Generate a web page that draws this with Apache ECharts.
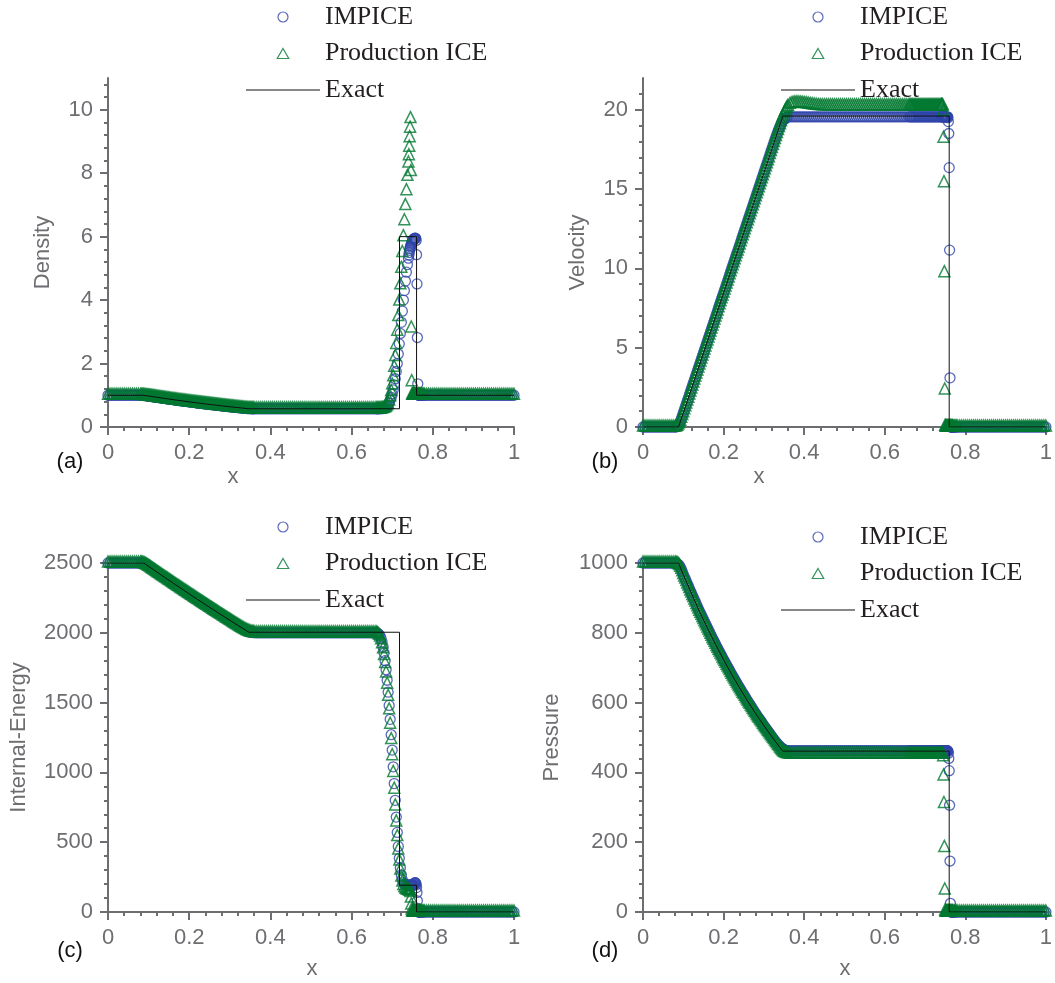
<!DOCTYPE html>
<html><head><meta charset="utf-8">
<script src="https://cdn.jsdelivr.net/npm/echarts@6/dist/echarts.min.js"></script>
<style>html,body{margin:0;padding:0;background:#fff}#c{width:1055px;height:983px}</style>
</head><body><div id="c"></div>
<script>
// cell centres of the numerical solutions
const xGrid = [
0,0.005,0.01,0.015,0.02,0.025,0.03,0.035,0.04,0.045,
0.05,0.055,0.06,0.065,0.07,0.075,0.08,
0.0825,0.085,0.0875,0.09,0.0925,0.095,0.0975,0.1,0.1025,0.105,
0.1075,0.11,0.1125,0.115,0.1175,0.12,0.1225,0.125,0.1275,0.13,
0.1325,0.135,0.1375,0.14,0.1425,0.145,0.1475,0.15,0.1525,0.155,
0.1575,0.16,0.1625,0.165,0.1675,0.17,0.1725,0.175,0.1775,0.18,
0.1825,0.185,0.1875,0.19,0.1925,0.195,0.1975,0.2,0.2025,0.205,
0.2075,0.21,0.2125,0.215,0.2175,0.22,0.2225,0.225,0.2275,0.23,
0.2325,0.235,0.2375,0.24,0.2425,0.245,0.2475,0.25,0.2525,0.255,
0.2575,0.26,0.2625,0.265,0.2675,0.27,0.2725,0.275,0.2775,0.28,
0.2825,0.285,0.2875,0.29,0.2925,0.295,0.2975,0.3,0.3025,0.305,
0.3075,0.31,0.3125,0.315,0.3175,0.32,0.3225,0.325,0.3275,0.33,
0.3325,0.335,0.3375,0.34,0.3425,0.345,0.3475,0.35,0.3525,0.355,
0.3575,0.36,
0.365,0.37,0.375,0.38,0.385,0.39,0.395,0.4,0.405,0.41,
0.415,0.42,0.425,0.43,0.435,0.44,0.445,0.45,0.455,0.46,
0.465,0.47,0.475,0.48,0.485,0.49,0.495,0.5,0.505,0.51,
0.515,0.52,0.525,0.53,0.535,0.54,0.545,0.55,0.555,0.56,
0.565,0.57,0.575,0.58,0.585,0.59,0.595,0.6,0.605,0.61,
0.615,0.62,0.625,0.63,0.635,0.64,0.645,0.65,0.655,0.66,
0.6625,0.665,0.6675,0.67,0.6725,0.675,0.6775,0.68,0.6825,0.685,
0.6875,0.69,0.6925,0.695,0.6975,0.7,0.7025,0.705,0.7075,0.71,
0.7125,0.715,0.7175,0.72,0.7225,0.725,0.7275,0.73,0.7325,0.735,
0.7375,0.74,
0.741,0.742,0.743,0.744,0.745,0.746,0.747,0.748,0.749,0.75,
0.751,0.752,0.753,0.754,0.755,0.756,0.757,0.758,0.759,0.76,
0.761,0.762,0.763,0.764,0.765,0.766,0.767,0.768,0.769,0.77,
0.7725,0.775,0.7775,0.78,
0.785,0.79,0.795,0.8,0.805,0.81,0.815,0.82,0.825,0.83,
0.835,0.84,0.845,0.85,0.855,0.86,0.865,0.87,0.875,0.88,
0.885,0.89,0.895,0.9,0.905,0.91,0.915,0.92,0.925,0.93,
0.935,0.94,0.945,0.95,0.955,0.96,0.965,0.97,0.975,0.98,
0.985,0.99,0.995,1];

const densityImpice = [
1,1,1,1,1,1,1,1,1,1,
1,1,1,1,1,1,0.999,
0.998,0.996,0.993,0.99,0.987,0.983,0.979,0.975,0.971,0.966,
0.962,0.957,0.952,0.947,0.943,0.938,0.933,0.928,0.923,0.918,
0.914,0.909,0.905,0.9,0.895,0.89,0.886,0.881,0.877,0.872,
0.868,0.863,0.859,0.854,0.85,0.845,0.841,0.836,0.832,0.828,
0.824,0.819,0.815,0.81,0.806,0.802,0.798,0.793,0.789,0.785,
0.781,0.777,0.773,0.769,0.765,0.76,0.756,0.752,0.748,0.744,
0.74,0.736,0.732,0.728,0.725,0.721,0.717,0.713,0.709,0.705,
0.702,0.698,0.694,0.69,0.687,0.683,0.679,0.675,0.672,0.668,
0.664,0.66,0.657,0.653,0.65,0.646,0.643,0.639,0.636,0.632,
0.629,0.625,0.622,0.618,0.615,0.611,0.608,0.604,0.601,0.598,
0.595,0.592,0.589,0.586,0.583,0.581,0.579,0.578,0.577,0.576,
0.5755,0.575,
0.575,0.575,0.575,0.575,0.575,0.575,0.575,0.575,0.575,0.575,
0.575,0.575,0.575,0.575,0.575,0.575,0.575,0.575,0.575,0.575,
0.575,0.575,0.575,0.575,0.575,0.575,0.575,0.575,0.575,0.575,
0.575,0.575,0.575,0.575,0.575,0.575,0.575,0.575,0.575,0.575,
0.575,0.575,0.575,0.575,0.575,0.575,0.575,0.575,0.575,0.575,
0.575,0.575,0.575,0.575,0.575,0.575,0.575,0.575,0.575,0.575,
0.575,0.575,0.576,0.577,0.578,0.58,0.583,0.587,0.595,0.61,
0.64,0.69,0.76,0.84,0.93,1.04,1.17,1.33,1.52,1.75,
2,2.3,2.62,2.95,3.3,3.65,4,4.3,4.6,4.88,
5.12,5.32,
5.42,5.5,5.57,5.63,5.68,5.72,5.76,5.8,5.83,5.86,
5.88,5.9,5.92,5.93,5.94,5.95,5.95,5.94,5.88,5.43,
4.51,2.82,1.36,1.02,1,1,1,1,1,1,
1,1,1,1,
1,1,1,1,1,1,1,1,1,1,
1,1,1,1,1,1,1,1,1,1,
1,1,1,1,1,1,1,1,1,1,
1,1,1,1,1,1,1,1,1,1,
1,1,1,1];

const densityIce = [
1,1,1,1,1,1,1,1,1,1,
1,1,1,1,1,1,0.999,
0.998,0.996,0.993,0.99,0.987,0.983,0.979,0.975,0.971,0.966,
0.962,0.957,0.952,0.947,0.943,0.938,0.933,0.928,0.923,0.918,
0.914,0.909,0.905,0.9,0.895,0.89,0.886,0.881,0.877,0.872,
0.868,0.863,0.859,0.854,0.85,0.845,0.841,0.836,0.832,0.828,
0.824,0.819,0.815,0.81,0.806,0.802,0.798,0.793,0.789,0.785,
0.781,0.777,0.773,0.769,0.765,0.76,0.756,0.752,0.748,0.744,
0.74,0.736,0.732,0.728,0.725,0.721,0.717,0.713,0.709,0.705,
0.702,0.698,0.694,0.69,0.687,0.683,0.679,0.675,0.672,0.668,
0.664,0.66,0.657,0.653,0.65,0.646,0.643,0.639,0.636,0.632,
0.629,0.625,0.622,0.618,0.615,0.611,0.608,0.604,0.601,0.598,
0.595,0.592,0.589,0.586,0.583,0.581,0.579,0.578,0.577,0.576,
0.5755,0.575,
0.575,0.575,0.575,0.575,0.575,0.575,0.575,0.575,0.575,0.575,
0.575,0.575,0.575,0.575,0.575,0.575,0.575,0.575,0.575,0.575,
0.575,0.575,0.575,0.575,0.575,0.575,0.575,0.575,0.575,0.575,
0.575,0.575,0.575,0.575,0.575,0.575,0.575,0.575,0.575,0.575,
0.575,0.575,0.575,0.575,0.575,0.575,0.575,0.575,0.575,0.575,
0.575,0.575,0.575,0.575,0.575,0.575,0.575,0.575,0.575,0.575,
0.575,0.575,0.576,0.577,0.579,0.582,0.587,0.595,0.61,0.63,
0.67,0.72,0.82,0.95,1.12,1.33,1.58,1.88,2.22,2.6,
3.02,3.48,3.97,4.48,5,5.5,6,6.5,6.98,7.45,
7.9,8.32,
8.55,8.82,9.12,9.42,9.72,8.05,3.12,1.43,1.02,1,
1,1,1,1,1,1,1,1,1,1,
1,1,1,1,1,1,1,1,1,1,
1,1,1,1,
1,1,1,1,1,1,1,1,1,1,
1,1,1,1,1,1,1,1,1,1,
1,1,1,1,1,1,1,1,1,1,
1,1,1,1,1,1,1,1,1,1,
1,1,1,1];

const velocityImpice = [
0,0,0,0,0,0,0,0,0,0,
0,0,0,0,0,0,0,
0.01,0.03,0.08,0.18,0.32,0.5,0.69,0.88,1.07,1.26,
1.45,1.64,1.82,2.01,2.2,2.39,2.58,2.77,2.96,3.15,
3.34,3.53,3.72,3.91,4.1,4.29,4.48,4.67,4.86,5.05,
5.24,5.42,5.61,5.8,5.99,6.18,6.37,6.56,6.75,6.94,
7.13,7.32,7.51,7.7,7.89,8.08,8.26,8.45,8.64,8.83,
9.02,9.21,9.4,9.59,9.78,9.97,10.16,10.35,10.54,10.73,
10.92,11.1,11.29,11.48,11.67,11.86,12.05,12.24,12.43,12.62,
12.81,13,13.19,13.38,13.57,13.76,13.95,14.14,14.33,14.51,
14.7,14.89,15.08,15.27,15.46,15.65,15.84,16.03,16.22,16.41,
16.6,16.79,16.98,17.17,17.36,17.54,17.73,17.92,18.1,18.28,
18.46,18.62,18.79,18.95,19.09,19.22,19.32,19.4,19.46,19.5,
19.53,19.55,
19.55,19.55,19.55,19.55,19.55,19.55,19.55,19.55,19.55,19.55,
19.55,19.55,19.55,19.55,19.55,19.55,19.55,19.55,19.55,19.55,
19.55,19.55,19.55,19.55,19.55,19.55,19.55,19.55,19.55,19.55,
19.55,19.55,19.55,19.55,19.55,19.55,19.55,19.55,19.55,19.55,
19.55,19.55,19.55,19.55,19.55,19.55,19.55,19.55,19.55,19.55,
19.55,19.55,19.55,19.55,19.55,19.55,19.55,19.55,19.55,19.55,
19.55,19.55,19.55,19.55,19.55,19.55,19.55,19.55,19.55,19.55,
19.55,19.55,19.55,19.55,19.55,19.55,19.55,19.55,19.55,19.55,
19.55,19.55,19.55,19.55,19.55,19.55,19.55,19.55,19.55,19.55,
19.55,19.55,
19.55,19.55,19.55,19.55,19.55,19.55,19.55,19.55,19.55,19.55,
19.55,19.55,19.55,19.55,19.55,19.55,19.5,19.25,18.5,16.35,
11.15,3.1,0.05,0,0,0,0,0,0,0,
0,0,0,0,
0,0,0,0,0,0,0,0,0,0,
0,0,0,0,0,0,0,0,0,0,
0,0,0,0,0,0,0,0,0,0,
0,0,0,0,0,0,0,0,0,0,
0,0,0,0];

const velocityIce = [
0,0,0,0,0,0,0,0,0,0,
0,0,0,0,0,0,0,
0.02,0.05,0.12,0.22,0.37,0.55,0.73,0.9,1.08,1.27,
1.45,1.64,1.82,2.01,2.2,2.39,2.58,2.77,2.96,3.15,
3.34,3.53,3.72,3.91,4.1,4.29,4.48,4.67,4.86,5.05,
5.24,5.42,5.61,5.8,5.99,6.18,6.37,6.56,6.75,6.94,
7.13,7.32,7.51,7.7,7.89,8.08,8.26,8.45,8.64,8.83,
9.02,9.21,9.4,9.59,9.78,9.97,10.16,10.35,10.54,10.73,
10.92,11.1,11.29,11.48,11.67,11.86,12.05,12.24,12.43,12.62,
12.81,13,13.19,13.38,13.57,13.76,13.95,14.14,14.33,14.51,
14.7,14.89,15.08,15.27,15.46,15.65,15.84,16.03,16.22,16.41,
16.6,16.79,16.98,17.17,17.36,17.55,17.74,17.93,18.12,18.31,
18.5,18.69,18.88,19.06,19.24,19.42,19.6,19.75,19.9,20.02,
20.13,20.22,
20.34,20.4,20.43,20.44,20.44,20.43,20.42,20.4,20.38,20.36,
20.34,20.32,20.3,20.28,20.27,20.26,20.25,20.25,20.25,20.25,
20.25,20.25,20.25,20.25,20.25,20.25,20.25,20.25,20.25,20.25,
20.25,20.25,20.25,20.25,20.25,20.25,20.25,20.25,20.25,20.25,
20.25,20.25,20.25,20.25,20.25,20.25,20.25,20.25,20.25,20.25,
20.25,20.25,20.25,20.25,20.25,20.25,20.25,20.25,20.25,20.25,
20.25,20.25,20.25,20.25,20.25,20.25,20.25,20.25,20.25,20.25,
20.25,20.25,20.25,20.25,20.25,20.25,20.25,20.25,20.25,20.25,
20.25,20.25,20.25,20.25,20.25,20.25,20.25,20.25,20.25,20.25,
20.25,20.25,
20.25,20.25,20.25,20.25,19.9,18.2,15.4,9.73,2.33,0.05,
0,0,0,0,0,0,0,0,0,0,
0,0,0,0,0,0,0,0,0,0,
0,0,0,0,
0,0,0,0,0,0,0,0,0,0,
0,0,0,0,0,0,0,0,0,0,
0,0,0,0,0,0,0,0,0,0,
0,0,0,0,0,0,0,0,0,0,
0,0,0,0];

const energyImpice = [
2500,2500,2500,2500,2500,2500,2500,2500,2500,2500,
2500,2500,2500,2500,2500,2500,2500,
2499,2498,2496,2493,2489,2485,2481,2476,2471,2466,
2461,2456,2451,2446,2441,2436,2431,2426,2421,2416,
2411,2406,2401,2396,2392,2387,2382,2377,2372,2367,
2362,2357,2352,2347,2342,2337,2333,2328,2323,2318,
2313,2308,2303,2298,2294,2289,2284,2279,2274,2269,
2265,2260,2255,2250,2245,2240,2236,2231,2226,2221,
2217,2212,2207,2202,2198,2193,2188,2183,2179,2174,
2169,2164,2160,2155,2151,2146,2141,2136,2132,2127,
2123,2118,2113,2108,2104,2099,2095,2090,2086,2081,
2076,2071,2067,2062,2058,2053,2049,2044,2040,2035,
2031,2027,2023,2019,2015,2012,2009,2006,2004,2003,
2002,2001,
2000,2000,2000,2000,2000,2000,2000,2000,2000,2000,
2000,2000,2000,2000,2000,2000,2000,2000,2000,2000,
2000,2000,2000,2000,2000,2000,2000,2000,2000,2000,
2000,2000,2000,2000,2000,2000,2000,2000,2000,2000,
2000,2000,2000,2000,2000,2000,2000,2000,2000,2000,
2000,2000,2000,2000,2000,2000,2000,2000,2000,2000,
1998,1995,1988,1978,1960,1935,1900,1855,1800,1735,
1660,1575,1480,1380,1270,1160,1040,920,800,680,
570,470,385,315,265,230,210,200,195,193,
192,192,
192,192,192,192,192,192,192,192,192,192,
192,192,195,200,205,210,210,205,195,175,
140,80,25,3,0.03,0.03,0.03,0.03,0.03,0.03,
0.025,0.025,0.025,0.025,
0.025,0.025,0.025,0.025,0.025,0.025,0.025,0.025,0.025,0.025,
0.025,0.025,0.025,0.025,0.025,0.025,0.025,0.025,0.025,0.025,
0.025,0.025,0.025,0.025,0.025,0.025,0.025,0.025,0.025,0.025,
0.025,0.025,0.025,0.025,0.025,0.025,0.025,0.025,0.025,0.025,
0.025,0.025,0.025,0.025];

const energyIce = [
2500,2500,2500,2500,2500,2500,2500,2500,2500,2500,
2500,2500,2500,2500,2500,2500,2500,
2499,2498,2496,2493,2489,2485,2481,2476,2471,2466,
2461,2456,2451,2446,2441,2436,2431,2426,2421,2416,
2411,2406,2401,2396,2392,2387,2382,2377,2372,2367,
2362,2357,2352,2347,2342,2337,2333,2328,2323,2318,
2313,2308,2303,2298,2294,2289,2284,2279,2274,2269,
2265,2260,2255,2250,2245,2240,2236,2231,2226,2221,
2217,2212,2207,2202,2198,2193,2188,2183,2179,2174,
2169,2164,2160,2155,2151,2146,2141,2136,2132,2127,
2123,2118,2113,2108,2104,2099,2095,2090,2086,2081,
2076,2071,2067,2062,2058,2053,2049,2044,2040,2035,
2031,2027,2023,2019,2015,2012,2009,2006,2004,2003,
2002,2001,
2000,2000,2000,2000,2000,2000,2000,2000,2000,2000,
2000,2000,2000,2000,2000,2000,2000,2000,2000,2000,
2000,2000,2000,2000,2000,2000,2000,2000,2000,2000,
2000,2000,2000,2000,2000,2000,2000,2000,2000,2000,
2000,2000,2000,2000,2000,2000,2000,2000,2000,2000,
2000,2000,2000,2000,2000,2000,2000,2000,2000,2000,
1997,1992,1983,1970,1950,1922,1885,1838,1780,1712,
1632,1545,1448,1345,1235,1120,1000,880,760,645,
540,445,365,300,250,215,190,175,165,160,
157,155,
154,153,152,150,140,100,50,15,2,0.03,
0.03,0.03,0.03,0.03,0.03,0.03,0.03,0.03,0.03,0.03,
0.03,0.03,0.03,0.03,0.03,0.03,0.03,0.03,0.03,0.03,
0.025,0.025,0.025,0.025,
0.025,0.025,0.025,0.025,0.025,0.025,0.025,0.025,0.025,0.025,
0.025,0.025,0.025,0.025,0.025,0.025,0.025,0.025,0.025,0.025,
0.025,0.025,0.025,0.025,0.025,0.025,0.025,0.025,0.025,0.025,
0.025,0.025,0.025,0.025,0.025,0.025,0.025,0.025,0.025,0.025,
0.025,0.025,0.025,0.025];

const pressureImpice = [
1000,1000,1000,1000,1000,1000,1000,1000,1000,1000,
1000,1000,1000,1000,1000,1000,1000,
999,998,996,993,988,982,975,967,960,954,
947,940,934,927,920,914,907,901,894,888,
881,875,868,862,856,850,844,838,832,826,
820,814,808,802,796,790,784,779,773,767,
761,756,750,745,739,734,728,723,718,713,
707,702,697,692,686,681,676,671,666,661,
656,651,646,642,637,632,627,623,618,613,
608,604,599,595,590,586,581,577,572,568,
563,559,555,551,547,543,538,534,530,526,
522,518,514,510,506,502,498,494,490,487,
483,480,477,474,471,469,467,465,464,463,
462,462,
462,462,462,462,462,462,462,462,462,462,
462,462,462,462,462,462,462,462,462,462,
462,462,462,462,462,462,462,462,462,462,
462,462,462,462,462,462,462,462,462,462,
462,462,462,462,462,462,462,462,462,462,
462,462,462,462,462,462,462,462,462,462,
462,462,462,462,462,462,462,462,462,462,
462,462,462,462,462,462,462,462,462,462,
462,462,462,462,462,462,462,462,462,462,
462,462,
462,462,462,462,462,462,462,462,462,462,
462,462,462,462,462,462,460,455,440,405,
306,146,25,0.5,0.01,0.01,0.01,0.01,0.01,0.01,
0.01,0.01,0.01,0.01,
0.01,0.01,0.01,0.01,0.01,0.01,0.01,0.01,0.01,0.01,
0.01,0.01,0.01,0.01,0.01,0.01,0.01,0.01,0.01,0.01,
0.01,0.01,0.01,0.01,0.01,0.01,0.01,0.01,0.01,0.01,
0.01,0.01,0.01,0.01,0.01,0.01,0.01,0.01,0.01,0.01,
0.01,0.01,0.01,0.01];

const pressureIce = [
1000,1000,1000,1000,1000,1000,1000,1000,1000,1000,
1000,1000,1000,1000,1000,1000,1000,
999,998,996,993,988,982,975,967,960,954,
947,940,934,927,920,914,907,901,894,888,
881,875,868,862,856,850,844,838,832,826,
820,814,808,802,796,790,784,779,773,767,
761,756,750,745,739,734,728,723,718,713,
707,702,697,692,686,681,676,671,666,661,
656,651,646,642,637,632,627,623,618,613,
608,604,599,595,590,586,581,577,572,568,
563,559,555,551,547,543,538,534,530,526,
522,518,514,510,506,502,498,494,490,486,
482,478,474,470,466,463,460,458,456,455,
454,453,
452,452,452,452,452,452,452,452,452,452,
452,452,452,452,452,452,452,452,452,452,
452,452,452,452,452,452,452,452,452,452,
452,452,452,452,452,452,452,452,452,452,
452,452,452,452,452,452,452,452,452,452,
452,452,452,452,452,452,452,452,452,452,
452,452,452,452,452,452,452,452,452,452,
452,452,452,452,452,452,452,452,452,452,
452,452,452,452,452,452,452,452,452,452,
452,452,
452,452,452,452,445,390,311,185,63,3,
0.01,0.01,0.01,0.01,0.01,0.01,0.01,0.01,0.01,0.01,
0.01,0.01,0.01,0.01,0.01,0.01,0.01,0.01,0.01,0.01,
0.01,0.01,0.01,0.01,
0.01,0.01,0.01,0.01,0.01,0.01,0.01,0.01,0.01,0.01,
0.01,0.01,0.01,0.01,0.01,0.01,0.01,0.01,0.01,0.01,
0.01,0.01,0.01,0.01,0.01,0.01,0.01,0.01,0.01,0.01,
0.01,0.01,0.01,0.01,0.01,0.01,0.01,0.01,0.01,0.01,
0.01,0.01,0.01,0.01];

// exact Riemann solution (polyline breakpoints)
const exactX = [0,0.088,0.1,0.12,0.14,0.16,0.18,0.2,0.22,0.24,0.26,0.28,0.3,0.32,0.34,0.347,0.718,0.718,0.76,0.76,1];
const densityExact = [1,1,0.977,0.938,0.9,0.863,0.828,0.793,0.76,0.728,0.698,0.668,0.639,0.611,0.584,0.575,0.575,6,6,1,1];
const velocityExact = [0,0,0.88,2.39,3.91,5.42,6.94,8.45,9.97,11.48,13,14.51,16.03,17.54,19.06,19.6,19.6,19.6,19.6,0,0];
const energyExact = [2500,2500,2476,2436,2396,2357,2318,2279,2240,2202,2164,2127,2090,2053,2017,2004,2004,192,192,0.025,0.025];
const pressureExact = [1000,1000,967,914,862,814,767,723,681,642,604,568,534,502,471,461,461,461,461,0.01,0.01];

// axis ticks
const xTicks = [0,0.2,0.4,0.6,0.8,1];
const densityTicks = [0,2,4,6,8,10];
const velocityTicks = [0,5,10,15,20];
const energyTicks = [0,500,1000,1500,2000,2500];
const pressureTicks = [0,200,400,600,800,1000];

const seriesNames = ['IMPICE','Production ICE','Exact'];
const panelLabels = ['(a)','(b)','(c)','(d)'];
const yNames = ['Density','Velocity','Internal-Energy','Pressure'];

const BLUE = '#2f45aa', GREEN = '#00782f', AX = '#6d6e71';
const FONT = '"Liberation Sans", Arial, sans-serif';
const SERIF = '"Liberation Serif", "Times New Roman", serif';

const grids = [
  {left:108, top:78, width:406, height:349},
  {left:643, top:78, width:405, height:349},
  {left:108, top:563, width:406, height:349},
  {left:643, top:563, width:405, height:349}
];
const yCfg = [
  {min:0, max:11, interval:2, ticks:densityTicks, gap:54},
  {min:0, max:22, interval:5, ticks:velocityTicks, gap:54},
  {min:0, max:2500, interval:500, ticks:energyTicks, gap:78},
  {min:0, max:1000, interval:200, ticks:pressureTicks, gap:80}
];
const numeric = [
  [densityImpice, densityIce, densityExact],
  [velocityImpice, velocityIce, velocityExact],
  [energyImpice, energyIce, energyExact],
  [pressureImpice, pressureIce, pressureExact]
];

function pairs(xs, ys){ return xs.map((x,i)=>[x, ys[i]]); }
const fmt = v => String(v);

const xAxis = grids.map((g,i)=>({
  gridIndex:i, type:'value', min:0, max:1, interval:0.2,
  axisLine:{show:true, onZero:false, lineStyle:{color:AX, width:2}},
  axisTick:{show:true, length:8, inside:false, lineStyle:{color:AX, width:2}, customValues:xTicks},
  minorTick:{show:true, splitNumber:5, length:4, lineStyle:{color:AX, width:2}},
  splitLine:{show:false},
  axisLabel:{color:AX, fontSize:22, fontFamily:FONT, margin:15, customValues:xTicks, formatter:fmt}
}));
const yAxis = yCfg.map((c,i)=>({
  gridIndex:i, type:'value', min:c.min, max:c.max, interval:c.interval,
  name:yNames[i], nameLocation:'middle', nameGap:c.gap,
  nameTextStyle:{color:AX, fontSize:22, fontFamily:FONT},
  axisLine:{show:true, onZero:false, lineStyle:{color:AX, width:2}},
  axisTick:{show:true, length:8, lineStyle:{color:AX, width:2}, customValues:c.ticks},
  minorTick:{show:true, splitNumber:5, length:4, lineStyle:{color:AX, width:2}},
  splitLine:{show:false},
  axisLabel:{color:AX, fontSize:22, fontFamily:FONT, margin:15, customValues:c.ticks, formatter:fmt}
}));

const series = [];
numeric.forEach((arr,i)=>{
  series.push({type:'scatter', name:seriesNames[0], xAxisIndex:i, yAxisIndex:i,
    data:pairs(xGrid, arr[0]), symbol:'circle', symbolSize:10, z:2, silent:true,
    itemStyle:{color:'rgba(0,0,0,0)', borderColor:BLUE, borderWidth:1.3}});
  series.push({type:'scatter', name:seriesNames[1], xAxisIndex:i, yAxisIndex:i,
    data:pairs(xGrid, arr[1]), symbol:'triangle', symbolSize:11, symbolOffset:[0,-1.5], z:3, silent:true,
    itemStyle:{color:'rgba(0,0,0,0)', borderColor:GREEN, borderWidth:1.5}});
  series.push({type:'line', name:seriesNames[2], xAxisIndex:i, yAxisIndex:i,
    data:pairs(exactX, arr[2]), symbol:'none', showSymbol:false, z:4, silent:true,
    itemStyle:{color:'#111'}, lineStyle:{color:'#111', width:1}});
});

const legendData = [
  {name:seriesNames[0], icon:'circle', itemStyle:{color:'rgba(0,0,0,0)', borderColor:BLUE, borderWidth:1.2}},
  {name:seriesNames[1], icon:'path://M5 0L10 8.7L0 8.7Z', itemStyle:{color:'rgba(0,0,0,0)', borderColor:GREEN, borderWidth:1.2}},
  {name:seriesNames[2], icon:'path://M0 0H74V1H0Z', itemStyle:{color:'#111', borderWidth:0}}
];
const legendPos = [{left:246, top:2},{left:781, top:2},{left:246, top:512},{left:781, top:522}];
const legend = legendPos.map(p=>({
  left:p.left, top:p.top, padding:0, orient:'vertical', itemWidth:74, itemHeight:10, itemGap:6.5,
  selectedMode:false, symbolKeepAspect:true, data:legendData,
  textStyle:{fontFamily:SERIF, fontSize:26, color:'#231f20', lineHeight:30}
}));

const labelPos = [[70,462],[605,462],[70,951],[605,951]];
const xNamePos = [[233,477],[759,477],[312,969],[845,969]];
const graphic = [];
labelPos.forEach((p,i)=>graphic.push({type:'text', x:p[0], y:p[1], silent:true,
  style:{text:panelLabels[i], font:'22px '+FONT, fill:'#111', align:'center', verticalAlign:'middle'}}));
xNamePos.forEach(p=>graphic.push({type:'text', x:p[0], y:p[1], silent:true,
  style:{text:'x', font:'22px '+FONT, fill:AX, align:'center', verticalAlign:'middle'}}));

const chart = echarts.init(document.getElementById('c'), null, {renderer:'canvas'});
chart.setOption({
  animation:false, backgroundColor:'#fff',
  grid:grids, xAxis, yAxis, series, legend, graphic
});
</script></body></html>
